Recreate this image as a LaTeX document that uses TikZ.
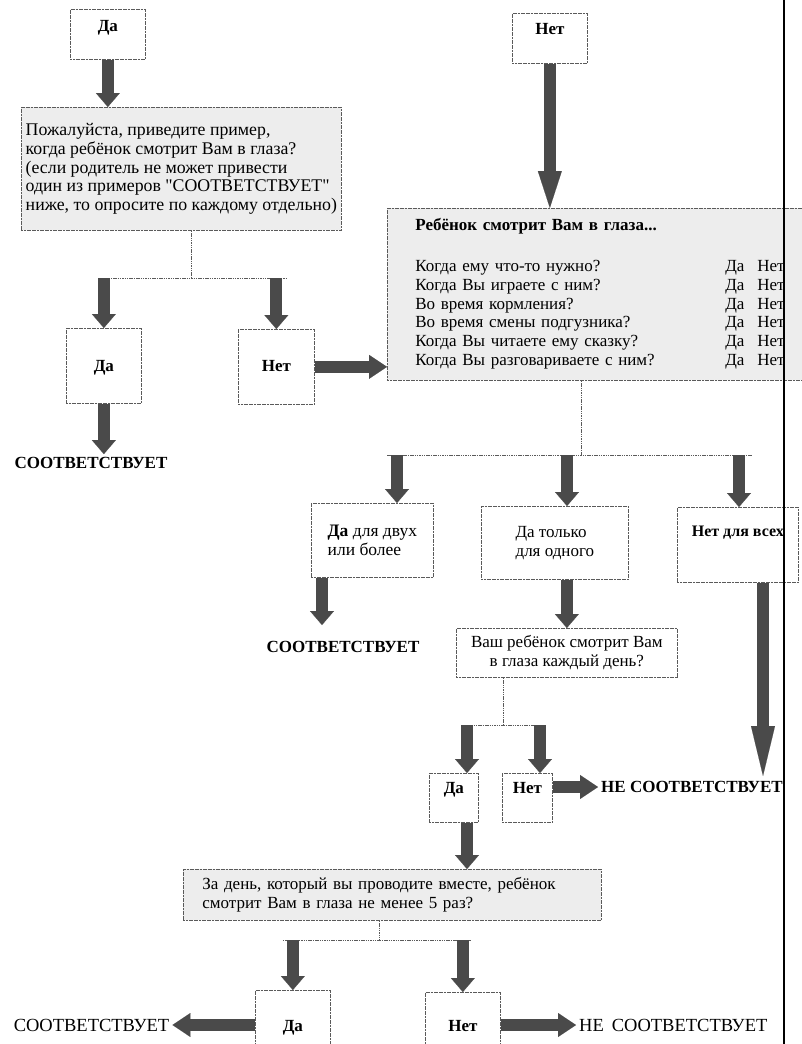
\documentclass[tikz,border=0pt]{standalone}
\usepackage{fontspec}
\setmainfont{Liberation Serif}[Ligatures=TeXOff]
\usetikzlibrary{arrows.meta}
\definecolor{arrowgray}{HTML}{4A4A4A}
\definecolor{boxline}{HTML}{5A5A5A}
\definecolor{boxfill}{HTML}{EDEDED}
\tikzset{
  box/.style={draw=boxline, line width=0.7pt, dash pattern=on 2pt off 0.6pt,
    inner sep=0pt, anchor=north west, font=\fontsize{17}{18.7}\selectfont},
  qbox/.style={box, fill=boxfill, align=left},
  ybox/.style 2 args={box, font=\bfseries\fontsize{17}{18.7}\selectfont,
    text height=#1pt, text depth=#2pt},
  link/.style={draw=boxline, line width=0.7pt, dash pattern=on 1.5pt off 0.8pt},
  fat/.style={draw=arrowgray, line width=12pt,
    -{Triangle[length=14pt,width=24pt,line width=0.1pt]}},
  fatside/.style={fat, -{Triangle[length=18pt,width=24pt,line width=0.1pt]}},
  fatlong/.style={fat, -{Triangle[length=#1,width=24pt,line width=0.1pt]}},
  verdict/.style={font=\bfseries\fontsize{17}{18}\selectfont, inner sep=3pt},
  plainverdict/.style={font=\fontsize{18.5}{18}\selectfont, inner sep=3pt},
}
\begin{document}
\begin{tikzpicture}[x=1pt,y=-1pt]
  \useasboundingbox (0,0) rectangle (801,1044);
  % first question
  \node[ybox={22}{28}, minimum width=75pt] (da0) at (70,9) {Да};
  \node[ybox={21}{29}, minimum width=75pt] (net0) at (512,13) {Нет};
  \node[qbox, minimum width=320pt, minimum height=123pt,
        font=\fontsize{17.8}{18.7}\selectfont] (q1) at (21,107)
    {Пожалуйста, приведите пример,\\
     когда ребёнок смотрит Вам в глаза?\\
     (если родитель не может привести\\
     один из примеров "СООТВЕТСТВУЕТ"\\
     ниже, то опросите по каждому отдельно)};
  \node[ybox={43}{32}, minimum width=75pt] (da1) at (66,328) {Да};
  \node[ybox={42}{33}, minimum width=76pt] (net1) at (238,329) {Нет};
  \node[verdict] (ok1) at (91,463) {СООТВЕТСТВУЕТ};
  % list of situations
  \node[qbox, text width=380pt, inner xsep=28pt, minimum height=172pt,
        font=\fontsize{17}{18.8}\selectfont] (big) at (387,208)
    {\begin{tabular}{@{}p{310pt}@{}p{32pt}@{}l@{}}
       \textbf{Ребёнок смотрит Вам в глаза...}\\[22pt]
       Когда ему что-то нужно? & Да & Нет\\
       Когда Вы играете с ним? & Да & Нет\\
       Во время кормления? & Да & Нет\\
       Во время смены подгузника? & Да & Нет\\
       Когда Вы читаете ему сказку? & Да & Нет\\
       Когда Вы разговариваете с ним? & Да & Нет
     \end{tabular}};
  \node[box, align=left, minimum width=122pt, minimum height=74pt,
        font=\fontsize{17.5}{19}\selectfont] (bxA) at (311,503)
    {\textbf{Да} для двух\\или более};
  \node[box, align=left, minimum width=147pt, minimum height=73pt] (bxB) at (481,506)
    {Да только\\для одного};
  \node[ybox={29}{46}, minimum width=121pt,
        font=\bfseries\fontsize{16}{18}\selectfont] (bxC) at (677,507) {Нет для всех};
  \node[verdict] (ok2) at (343,647) {СООТВЕТСТВУЕТ};
  % every day?
  \node[box, align=center, minimum width=221pt, minimum height=49pt] (qD) at (456,628)
    {Ваш ребёнок смотрит Вам\\в глаза каждый день?};
  \node[ybox={20}{29}, minimum width=49pt] (da3) at (429,773) {Да};
  \node[ybox={20}{29}, minimum width=50pt] (net3) at (502,773) {Нет};
  \node[verdict, anchor=west] (no1) at (598,787) {НЕ СООТВЕТСТВУЕТ};
  % five times a day?
  \node[qbox, text width=380pt, inner xsep=19pt, minimum height=51pt] (qE) at (183,869)
    {За день, который вы проводите вместе, ребёнок\\
     смотрит Вам в глаза не менее 5 раз?};
  \node[ybox={41}{35}, minimum width=75pt] (da4) at (255,990) {Да};
  \node[ybox={39}{37}, minimum width=75pt] (net4) at (425,992) {Нет};
  \node[plainverdict] (ok3) at (91.5,1025) {СООТВЕТСТВУЕТ};
  \node[plainverdict, anchor=west] (no2) at (576,1025) {НЕ\hspace{8pt}СООТВЕТСТВУЕТ};

  % branching points
  \coordinate (s1) at (191,278);
  \coordinate (s2) at (581,455);
  \coordinate (s2a) at (397,455);
  \coordinate (s2b) at (567,455);
  \coordinate (s2c) at (739,455);
  \coordinate (s3) at (503,725);
  \coordinate (s3a) at (467,725);
  \coordinate (s3b) at (540,725);
  \coordinate (s4) at (379,940);
  \coordinate (tipA) at (322,625);
  \coordinate (tipC) at (763,776);

  \draw[link] (q1.south -| s1) -- (s1);
  \draw[link, shorten >=-11pt] (da1 |- s1) -- (net1 |- s1);
  \draw[link] (big.south -| s2) -- (s2);
  \draw[link, shorten <=-10pt, shorten >=-13pt] (s2a) -- (s2c);
  \draw[link] (qD.south -| s3) -- (s3);
  \draw[link, shorten <=-5pt, shorten >=-5pt] (s3a) -- (s3b);
  \draw[link] (qE.south -| s4) -- (s4);
  \draw[link, shorten <=-10pt, shorten >=-8pt] (da4 |- s4) -- (net4 |- s4);

  % arrows
  \draw[fat] (da0.south) -- (da0.south |- q1.north);
  \draw[fat] (da1 |- s1) -- (da1.north);
  \draw[fat] (net1 |- s1) -- (net1.north);
  \draw[fat] (da1.south) -- (da1.south |- ok1.north);
  \draw[fatside] (net1.east) -- (net1.east -| big.west);
  \draw[fatlong=37pt] (net0.south) -- (net0.south |- big.north);
  \draw[fat] (s2a) -- (s2a |- bxA.north);
  \draw[fat] (s2b) -- (s2b |- bxB.north);
  \draw[fat] (s2c) -- (s2c |- bxC.north);
  \draw[fat] (tipA |- bxA.south) -- (tipA);
  \draw[fat] (qD.north |- bxB.south) -- (qD.north);
  \draw[fat] (s3a) -- (s3a |- da3.north);
  \draw[fat] (s3b) -- (s3b |- net3.north);
  \draw[fatside] (net3.east |- no1.west) -- (no1.west);
  \draw[fatlong=50pt] (tipC |- bxC.south) -- (tipC);
  \draw[fat] (s3a |- da3.south) -- (s3a |- qE.north);
  \draw[fat] (da4 |- s4) -- (da4.north);
  \draw[fat] (net4 |- s4) -- (net4.north);
  \draw[fatside] (da4.west |- ok3.east) -- (ok3.east);
  \draw[fatside] (net4.east |- no2.west) -- (no2.west);

  % page edge
  \draw[line width=1.1pt] (784,0) -- (784,1044);
\end{tikzpicture}
\end{document}
